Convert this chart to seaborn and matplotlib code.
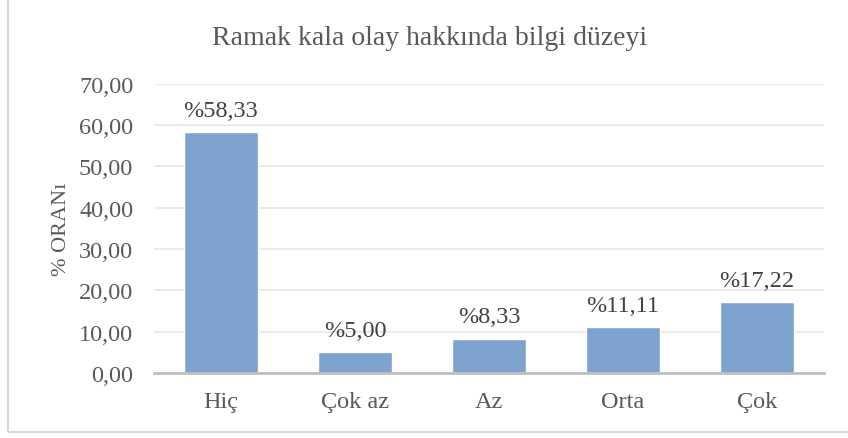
import pandas as pd
import matplotlib.pyplot as plt
import seaborn as sns
from matplotlib.patches import Rectangle

# Data
categories = ['Hiç', 'Çok az', 'Az', 'Orta', 'Çok']
percent = [58.33, 5.00, 8.33, 11.11, 17.22]
labels = ['%58,33', '%5,00', '%8,33', '%11,11', '%17,22']
yticks = [0, 10, 20, 30, 40, 50, 60, 70]

df = pd.DataFrame({'kategori': categories, 'oran': percent})

sns.set_style('white')
plt.rcParams['font.family'] = ['Liberation Serif', 'DejaVu Serif']

fig = plt.figure(figsize=(8.48, 4.39), dpi=100)
ax = fig.add_axes([0.1816, 0.148, 0.7901, 0.6595])

sns.barplot(data=df, x='kategori', y='oran', color='#7fa3cf', saturation=1,
            width=0.55, ax=ax)

ax.set_ylim(0, 70)
ax.set_yticks(yticks)
ax.set_yticklabels([f'{v:.2f}'.replace('.', ',') for v in yticks])
ax.yaxis.grid(True, color='#e6e6e6', linewidth=1.2)
ax.set_axisbelow(True)
for s in ['top', 'right', 'left']:
    ax.spines[s].set_visible(False)
ax.spines['bottom'].set_color('#bfbfbf')
ax.spines['bottom'].set_linewidth(2)
ax.tick_params(axis='both', length=0, labelsize=17.5, colors='#595959')
ax.tick_params(axis='x', pad=13)
ax.tick_params(axis='y', pad=15)

for i, (v, lab) in enumerate(zip(percent, labels)):
    ax.annotate(lab, (i, v), xytext=(0, 8), textcoords='offset points',
                ha='center', va='bottom', fontsize=17.5, color='#404040')

ax.set_xlabel('')
ax.set_ylabel('% ORANı', fontsize=16, color='#595959', labelpad=6)
fig.text(0.507, 0.912, 'Ramak kala olay hakkında bilgi düzeyi',
         ha='center', va='center', fontsize=20, color='#595959')

# chart border
fig.patches.append(Rectangle((8 / 848, 6 / 439), 1.2, 1.2, transform=fig.transFigure,
                             fill=False, edgecolor='#d9d9d9', linewidth=1.5))

fig.savefig('out.png', dpi=100)
